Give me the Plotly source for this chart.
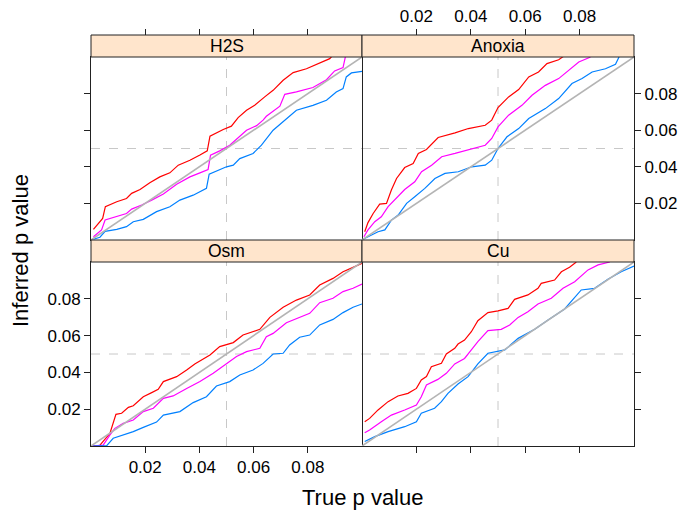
import plotly.graph_objects as go

# ---------------- data (p values) ----------------
panels = ["H2S", "Anoxia", "Osm", "Cu"]
tick_vals = [0.02, 0.04, 0.06, 0.08]
tick_text = ["0.02", "0.04", "0.06", "0.08"]
ref_p = 0.05
identity_p = [0.0, 0.1]

h2s_red_x = [0.0009,0.0043,0.0053,0.0095,0.0131,0.0150,0.0181,0.0217,0.0254,0.0291,0.0322,0.0365,0.0402,0.0429,0.0439,0.0488,0.0518,0.0543,0.0574,0.0604,0.0641,0.0672,0.0709,0.0746,0.0795,0.0844,0.0881,0.0893]
h2s_red_y = [0.0058,0.0118,0.0182,0.0209,0.0227,0.0255,0.0276,0.0313,0.0345,0.0367,0.0409,0.0436,0.0464,0.0487,0.0567,0.0604,0.0622,0.0669,0.0709,0.0736,0.0782,0.0818,0.0873,0.0915,0.0936,0.0967,0.0991,0.1010]
h2s_mag_x = [0.0009,0.0039,0.0052,0.0088,0.0131,0.0150,0.0187,0.0224,0.0267,0.0316,0.0365,0.0402,0.0432,0.0441,0.0475,0.0512,0.0543,0.0574,0.0611,0.0635,0.0647,0.0697,0.0715,0.0758,0.0819,0.0869,0.0899,0.0930,0.0940]
h2s_mag_y = [0.0018,0.0055,0.0109,0.0127,0.0145,0.0169,0.0191,0.0218,0.0251,0.0305,0.0345,0.0367,0.0385,0.0464,0.0487,0.0518,0.0560,0.0600,0.0625,0.0655,0.0676,0.0731,0.0796,0.0809,0.0833,0.0876,0.0924,0.0942,0.1010]
h2s_blu_x = [0.0009,0.0033,0.0052,0.0095,0.0131,0.0156,0.0193,0.0242,0.0291,0.0328,0.0377,0.0426,0.0436,0.0475,0.0500,0.0525,0.0549,0.0598,0.0629,0.0672,0.0721,0.0758,0.0819,0.0869,0.0905,0.0930,0.0942,0.0961,0.1000]
h2s_blu_y = [0.0004,0.0015,0.0047,0.0058,0.0073,0.0100,0.0113,0.0155,0.0182,0.0218,0.0245,0.0282,0.0360,0.0382,0.0400,0.0409,0.0445,0.0473,0.0518,0.0600,0.0664,0.0709,0.0736,0.0764,0.0809,0.0827,0.0891,0.0913,0.0922]

anx_red_x = [0.0010,0.0022,0.0041,0.0065,0.0090,0.0108,0.0127,0.0157,0.0188,0.0207,0.0237,0.0280,0.0342,0.0391,0.0453,0.0477,0.0500,0.0539,0.0576,0.0613,0.0649,0.0680,0.0723,0.0742]
anx_red_y = [0.0045,0.0095,0.0145,0.0196,0.0200,0.0273,0.0336,0.0396,0.0418,0.0473,0.0495,0.0560,0.0585,0.0609,0.0627,0.0655,0.0724,0.0782,0.0822,0.0891,0.0918,0.0964,0.0985,0.1005]
anx_mag_x = [0.0007,0.0022,0.0047,0.0071,0.0096,0.0127,0.0157,0.0194,0.0219,0.0256,0.0293,0.0342,0.0403,0.0453,0.0477,0.0500,0.0539,0.0588,0.0625,0.0674,0.0723,0.0760,0.0797,0.0834,0.0850]
anx_mag_y = [0.0018,0.0055,0.0100,0.0127,0.0182,0.0227,0.0276,0.0318,0.0373,0.0409,0.0455,0.0473,0.0500,0.0518,0.0555,0.0618,0.0682,0.0736,0.0791,0.0845,0.0882,0.0927,0.0973,0.0996,0.1010]
anx_blu_x = [0.0004,0.0028,0.0059,0.0084,0.0108,0.0133,0.0164,0.0194,0.0231,0.0268,0.0305,0.0354,0.0403,0.0453,0.0477,0.0500,0.0533,0.0576,0.0613,0.0674,0.0723,0.0772,0.0809,0.0846,0.0895,0.0932,0.0945]
anx_blu_y = [0.0004,0.0022,0.0045,0.0055,0.0109,0.0136,0.0200,0.0236,0.0282,0.0336,0.0364,0.0373,0.0400,0.0409,0.0436,0.0500,0.0564,0.0609,0.0664,0.0718,0.0773,0.0855,0.0882,0.0918,0.0936,0.0960,0.1000]

osm_red_x = [0.0000,0.0033,0.0070,0.0092,0.0113,0.0138,0.0156,0.0193,0.0224,0.0248,0.0267,0.0316,0.0353,0.0383,0.0439,0.0475,0.0525,0.0561,0.0623,0.0660,0.0709,0.0758,0.0807,0.0844,0.0893,0.0930,0.0967,0.1000]
osm_red_y = [0.0000,0.0004,0.0069,0.0172,0.0178,0.0210,0.0219,0.0268,0.0290,0.0308,0.0350,0.0377,0.0413,0.0446,0.0495,0.0540,0.0562,0.0603,0.0634,0.0699,0.0754,0.0793,0.0821,0.0875,0.0911,0.0947,0.0971,0.0993]
osm_mag_x = [0.0000,0.0045,0.0070,0.0088,0.0119,0.0156,0.0193,0.0230,0.0267,0.0303,0.0353,0.0402,0.0451,0.0500,0.0537,0.0574,0.0623,0.0647,0.0672,0.0721,0.0770,0.0807,0.0844,0.0893,0.0930,0.0967,0.1000]
osm_mag_y = [0.0000,0.0005,0.0060,0.0096,0.0123,0.0141,0.0187,0.0205,0.0259,0.0272,0.0313,0.0350,0.0395,0.0449,0.0486,0.0513,0.0531,0.0594,0.0612,0.0670,0.0699,0.0721,0.0779,0.0803,0.0839,0.0857,0.0880]
osm_blu_x = [0.0000,0.0058,0.0082,0.0119,0.0156,0.0193,0.0242,0.0267,0.0328,0.0377,0.0426,0.0463,0.0512,0.0549,0.0598,0.0635,0.0672,0.0709,0.0733,0.0770,0.0807,0.0844,0.0893,0.0930,0.0967,0.1000]
osm_blu_y = [0.0000,0.0002,0.0042,0.0060,0.0078,0.0101,0.0130,0.0168,0.0187,0.0236,0.0268,0.0326,0.0350,0.0386,0.0413,0.0449,0.0500,0.0504,0.0549,0.0591,0.0603,0.0658,0.0688,0.0725,0.0754,0.0772]

cu_red_x = [0.0010,0.0028,0.0059,0.0096,0.0132,0.0169,0.0200,0.0218,0.0237,0.0255,0.0292,0.0310,0.0341,0.0353,0.0377,0.0402,0.0426,0.0463,0.0500,0.0537,0.0561,0.0610,0.0647,0.0659,0.0708,0.0733,0.0763,0.0788]
cu_red_y = [0.0132,0.0150,0.0196,0.0241,0.0272,0.0286,0.0313,0.0359,0.0377,0.0431,0.0449,0.0500,0.0531,0.0554,0.0576,0.0621,0.0681,0.0725,0.0734,0.0748,0.0797,0.0821,0.0857,0.0884,0.0902,0.0947,0.0971,0.1000]
cu_mag_x = [0.0010,0.0028,0.0071,0.0108,0.0157,0.0200,0.0218,0.0237,0.0279,0.0310,0.0341,0.0377,0.0402,0.0426,0.0463,0.0512,0.0543,0.0574,0.0610,0.0647,0.0696,0.0739,0.0782,0.0831,0.0868,0.0911]
cu_mag_y = [0.0072,0.0087,0.0132,0.0168,0.0196,0.0223,0.0268,0.0332,0.0362,0.0395,0.0446,0.0476,0.0522,0.0567,0.0627,0.0634,0.0658,0.0699,0.0730,0.0772,0.0803,0.0857,0.0893,0.0957,0.0984,0.1000]
cu_blu_x = [0.0010,0.0047,0.0096,0.0157,0.0200,0.0218,0.0267,0.0292,0.0316,0.0353,0.0390,0.0426,0.0463,0.0525,0.0574,0.0635,0.0684,0.0745,0.0806,0.0855,0.0904,0.0953,0.1000]
cu_blu_y = [0.0024,0.0051,0.0078,0.0105,0.0132,0.0178,0.0205,0.0241,0.0286,0.0337,0.0377,0.0446,0.0504,0.0522,0.0585,0.0634,0.0685,0.0745,0.0848,0.0857,0.0906,0.0947,0.0978]

series = {
    "H2S":    [(h2s_red_x, h2s_red_y), (h2s_mag_x, h2s_mag_y), (h2s_blu_x, h2s_blu_y)],
    "Anoxia": [(anx_red_x, anx_red_y), (anx_mag_x, anx_mag_y), (anx_blu_x, anx_blu_y)],
    "Osm":    [(osm_red_x, osm_red_y), (osm_mag_x, osm_mag_y), (osm_blu_x, osm_blu_y)],
    "Cu":     [(cu_red_x, cu_red_y), (cu_mag_x, cu_mag_y), (cu_blu_x, cu_blu_y)],
}
colors = ["#ff0000", "#ff00ff", "#0080ff"]

# ---------------- layout geometry ----------------
W, H = 685, 510
FONT = "Liberation Sans, Arial, Helvetica, sans-serif"
def px(v): return v / W
def py(v): return 1 - v / H   # pixel from top -> paper

colL = [px(91), px(362)]
colR = [px(362), px(634)]
rowT = [py(240), py(57)]
rowB = [py(446), py(262)]
stripT = [py(57), py(35)]
stripB = [py(262), py(240)]

axes_ids = {"H2S": ("x", "y"), "Anoxia": ("x2", "y2"), "Osm": ("x3", "y3"), "Cu": ("x4", "y4")}

fig = go.Figure()
for name in panels:
    xa, ya = axes_ids[name]
    for (xs, ys), c in zip(series[name], colors):
        fig.add_trace(go.Scatter(x=xs, y=ys, mode="lines", xaxis=xa, yaxis=ya,
                                 line=dict(color=c, width=1.2), showlegend=False, hoverinfo="skip"))
    fig.add_trace(go.Scatter(x=identity_p, y=identity_p, mode="lines", xaxis=xa, yaxis=ya,
                             line=dict(color="#b4b4b4", width=1.6), showlegend=False, hoverinfo="skip"))

tickfont = dict(family=FONT, size=17, color="black")
base = dict(range=[0, 0.1], tickvals=tick_vals, ticktext=tick_text, ticklen=6, tickcolor="#222222",
            tickwidth=1, showgrid=False, zeroline=False, showline=True, linecolor="#222222",
            linewidth=1, mirror=True, tickfont=tickfont, fixedrange=True)

def ax(**kw):
    d = dict(base); d.update(kw); return d

layout = dict(
    xaxis=ax(domain=colL, anchor="y", ticks="", showticklabels=False),
    yaxis=ax(domain=rowT, anchor="x", ticks="outside", showticklabels=False, side="left"),
    xaxis2=ax(domain=colR, anchor="y2", ticks="", showticklabels=False),
    yaxis2=ax(domain=rowT, anchor="x2", ticks="outside", showticklabels=True, side="right", mirror=False),
    xaxis3=ax(domain=colL, anchor="y3", ticks="outside", showticklabels=True, side="bottom"),
    yaxis3=ax(domain=rowB, anchor="x3", ticks="outside", showticklabels=True, side="left"),
    xaxis4=ax(domain=colR, anchor="y4", ticks="outside", showticklabels=False, side="bottom"),
    yaxis4=ax(domain=rowB, anchor="x4", ticks="outside", showticklabels=False, side="right", mirror=False),
    xaxis5=ax(overlaying="x", anchor="free", position=stripT[1], side="top", ticks="outside",
              showticklabels=False, showline=False, mirror=False),
    xaxis6=ax(overlaying="x2", anchor="free", position=stripT[1], side="top", ticks="outside",
              showticklabels=True, showline=False, mirror=False),
)
fig.update_layout(**layout)
# empty traces so the top tick axes are drawn
fig.add_trace(go.Scatter(x=[None], y=[None], xaxis="x5", yaxis="y", showlegend=False))
fig.add_trace(go.Scatter(x=[None], y=[None], xaxis="x6", yaxis="y2", showlegend=False))

shapes = []
for name in panels:
    xa, ya = axes_ids[name]
    shapes.append(dict(type="line", xref=xa, yref=ya + " domain", x0=ref_p, x1=ref_p, y0=0, y1=1,
                       line=dict(color="#c8c8c8", width=1, dash="dash"), layer="below"))
    shapes.append(dict(type="line", xref=xa + " domain", yref=ya, x0=0, x1=1, y0=ref_p, y1=ref_p,
                       line=dict(color="#c8c8c8", width=1, dash="dash"), layer="below"))

strip_pos = {"H2S": (colL, stripT), "Anoxia": (colR, stripT), "Osm": (colL, stripB), "Cu": (colR, stripB)}
annotations = []
for name in panels:
    (x0, x1), (y0, y1) = strip_pos[name]
    shapes.append(dict(type="rect", xref="paper", yref="paper", x0=x0, x1=x1, y0=y0, y1=y1,
                       fillcolor="#ffe5cc", line=dict(color="#222222", width=1), layer="above"))
    annotations.append(dict(text=name, xref="paper", yref="paper", x=(x0 + x1) / 2, y=(y0 + y1) / 2,
                            showarrow=False, xanchor="center", yanchor="middle",
                            font=dict(family=FONT, size=17.5, color="black")))

annotations.append(dict(text="True p value", xref="paper", yref="paper", x=px(362.5), y=py(497),
                        showarrow=False, xanchor="center", yanchor="middle",
                        font=dict(family=FONT, size=22, color="black")))
annotations.append(dict(text="Inferred p value", xref="paper", yref="paper", x=px(20), y=py(251),
                        showarrow=False, xanchor="center", yanchor="middle", textangle=-90,
                        font=dict(family=FONT, size=22, color="black")))

fig.update_layout(width=W, height=H, autosize=False, margin=dict(l=0, r=0, t=0, b=0),
                  paper_bgcolor="white", plot_bgcolor="white",
                  shapes=shapes, annotations=annotations, showlegend=False)

fig.write_html("out.html")
